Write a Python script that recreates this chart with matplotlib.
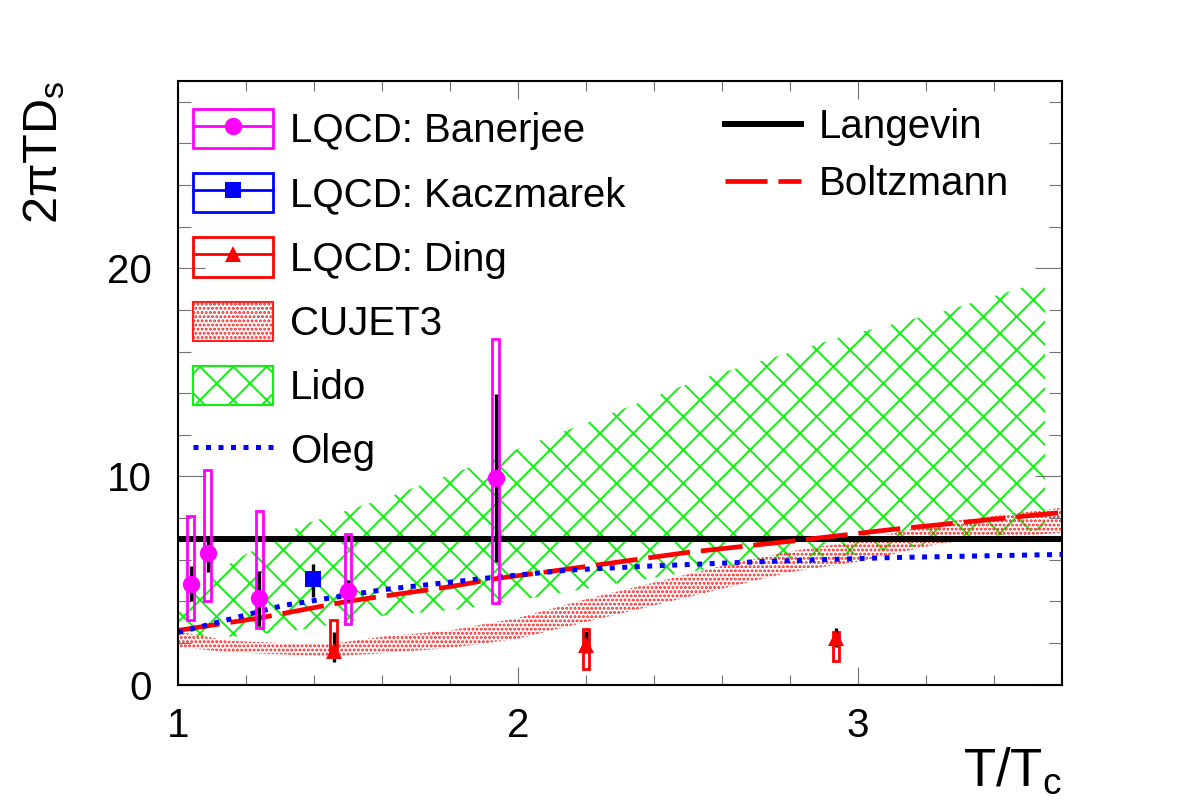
import matplotlib
matplotlib.use('Agg')
import matplotlib.pyplot as plt
from matplotlib.patches import Rectangle
from matplotlib.lines import Line2D
from matplotlib.ticker import MultipleLocator, FixedLocator

plt.rcParams['font.family'] = ['Liberation Sans', 'DejaVu Sans']
plt.rcParams['mathtext.fontset'] = 'custom'
plt.rcParams['mathtext.rm'] = 'Liberation Sans'
plt.rcParams['mathtext.it'] = 'Liberation Sans:italic'
plt.rcParams['mathtext.default'] = 'regular'
plt.rcParams['hatch.linewidth'] = 1.4

# ---- data ----
ban_x = [1.037, 1.087, 1.239, 1.50, 1.935]
ban_y = [4.85, 6.3, 4.15, 4.5, 9.9]
ban_stat_lo = [4.0, 5.4, 2.8, 4.0, 5.9]
ban_stat_hi = [5.7, 6.95, 5.45, 5.0, 13.95]
ban_sys_lo = [3.1, 4.0, 2.7, 2.9, 3.9]
ban_sys_hi = [8.1, 10.3, 8.35, 7.25, 16.6]

kac_x = [1.398]
kac_y = [5.05]
kac_stat_lo = [4.2]
kac_stat_hi = [5.8]

ding_x = [1.458, 2.20, 2.935]
ding_y = [1.6, 1.9, 2.25]
ding_stat_lo = [1.1, 1.5, 1.8]
ding_stat_hi = [2.5, 2.55, 2.7]
ding_sys_lo = [1.3, 0.75, 1.15]
ding_sys_hi = [3.1, 2.65, 2.5]

cujet_x = [1.0, 1.15, 1.3, 1.45, 1.6, 1.8, 2.0, 2.2, 2.4, 2.6, 2.8, 3.0, 3.25, 3.6]
cujet_lo = [1.8, 1.55, 1.45, 1.35, 1.5, 1.75, 2.2, 3.0, 3.8, 4.6, 5.4, 5.9, 6.8, 7.3]
cujet_hi = [2.55, 2.1, 2.0, 1.95, 2.3, 2.6, 3.2, 4.1, 4.9, 5.7, 6.4, 6.9, 7.8, 8.5]

lido_x = [1.0, 1.17, 1.37, 1.6, 1.82, 2.02, 2.27, 2.54, 2.83, 2.95, 3.245, 3.55]
lido_hi = [4.1, 6.0, 7.7, 8.9, 10.2, 11.45, 13.0, 14.7, 16.1, 16.7, 17.9, 19.4]
lido_lo = [2.3, 2.3, 2.65, 3.3, 3.6, 4.1, 4.8, 5.5, 6.15, 6.15, 6.8, 7.45]

oleg_x = [1.0, 1.31, 1.6, 1.9, 2.15, 2.4, 2.71, 3.1, 3.6]
oleg_y = [2.5, 3.8, 4.55, 5.1, 5.5, 5.7, 5.9, 6.1, 6.25]

boltz_x = [1.0, 1.24, 1.5, 1.8, 1.94, 2.125, 2.5, 2.81, 3.1, 3.6]
boltz_y = [2.6, 3.2, 4.0, 4.7, 5.1, 5.5, 6.35, 6.9, 7.45, 8.27]

langevin_y = 7.0

BOX_W = 0.02
GREEN = '#10f010'
MAGENTA = '#ff00ff'

fig = plt.figure(figsize=(11.82, 8.07), dpi=100)
ax = fig.add_axes([178 / 1182, 1 - 684.5 / 807, 884 / 1182, 603.5 / 807])

# bands
ax.fill_between(lido_x, lido_lo, lido_hi, facecolor='none', edgecolor=GREEN,
                hatch='x', linewidth=0, zorder=1)
ax.fill_between(cujet_x, cujet_lo, cujet_hi, facecolor='none', edgecolor='#ff2020',
                hatch='....', linewidth=0, zorder=1.5)

# curves
ax.axhline(langevin_y, color='black', lw=4.3, zorder=2)
ax.plot(boltz_x, boltz_y, color='red', lw=3.4, dashes=(8.9, 2.3), zorder=3)
ax.plot(oleg_x, oleg_y, color='blue', lw=3.6, dashes=(1, 1.5), zorder=3.5)

# systematic boxes
for x, lo, hi in zip(ban_x, ban_sys_lo, ban_sys_hi):
    ax.add_patch(Rectangle((x - BOX_W / 2, lo), BOX_W, hi - lo, fill=False,
                           edgecolor=MAGENTA, lw=2, zorder=4))
for x, lo, hi in zip(ding_x, ding_sys_lo, ding_sys_hi):
    ax.add_patch(Rectangle((x - BOX_W / 2, lo), BOX_W, hi - lo, fill=False,
                           edgecolor='red', lw=2, zorder=4))

# statistical bars
ax.vlines(ban_x, ban_stat_lo, ban_stat_hi, color='black', lw=2.4, zorder=5)
ax.vlines(kac_x, kac_stat_lo, kac_stat_hi, color='black', lw=2.4, zorder=5)
ax.vlines(ding_x, ding_stat_lo, ding_stat_hi, color='black', lw=2.4, zorder=5)

# markers
ax.plot(ban_x, ban_y, 'o', color=MAGENTA, ms=12.5, mew=0, zorder=6)
ax.plot(kac_x, kac_y, 's', color='blue', ms=12, mew=0, zorder=6)
ax.plot(ding_x, ding_y, '^', color='red', ms=11, mew=0, zorder=6)

ax.set_xlim(1, 3.6)
ax.set_ylim(0, 29)
ax.xaxis.set_major_locator(FixedLocator([1, 2, 3]))
ax.xaxis.set_minor_locator(MultipleLocator(0.2))
ax.yaxis.set_major_locator(FixedLocator([0, 10, 20]))
ax.yaxis.set_minor_locator(MultipleLocator(2))
ax.set_xticklabels(['1', '2', '3'])
ax.set_yticklabels(['0', '10', '20'])

ax.tick_params(which='both', direction='in', top=True, right=True,
               color='0.45', width=0.8, labelsize=29)
ax.tick_params(axis='x', which='major', length=13, pad=16)
ax.tick_params(axis='x', which='minor', length=7)
ax.tick_params(axis='y', which='major', length=19.5, pad=18.5)
ax.tick_params(axis='y', which='minor', length=9.5)
for s in ax.spines.values():
    s.set_linewidth(1.5)
    s.set_zorder(10)

fig.text(44 / 1182, 1 - 80 / 807, '2πTD$_s$', rotation=90, ha='center',
         va='top', fontsize=35)
fig.text(1062 / 1182, 1 - 786 / 807, 'T/T$_c$', ha='right', va='baseline',
         fontsize=38)

# legends
h_ban = (Rectangle((0, 0), 1, 1, fill=False, edgecolor=MAGENTA, lw=2),
         Line2D([], [], color=MAGENTA, lw=2, marker='o', ms=12.5, mew=0))
h_kac = (Rectangle((0, 0), 1, 1, fill=False, edgecolor='blue', lw=2),
         Line2D([], [], color='blue', lw=2, marker='s', ms=12, mew=0))
h_ding = (Rectangle((0, 0), 1, 1, fill=False, edgecolor='red', lw=2),
          Line2D([], [], color='red', lw=2, marker='^', ms=11, mew=0))
h_cujet = Rectangle((0, 0), 1, 1, facecolor='none', edgecolor='#ff2020', hatch='....', lw=1.5)
h_lido = Rectangle((0, 0), 1, 1, facecolor='none', edgecolor=GREEN, hatch='x', lw=1.5)
h_oleg = Line2D([], [], color='blue', lw=3.6, dashes=(1, 1.5))

leg1 = ax.legend([h_ban, h_kac, h_ding, h_cujet, h_lido, h_oleg],
                 ['LQCD: Banerjee', 'LQCD: Kaczmarek', 'LQCD: Ding', 'CUJET3', 'Lido', 'Oleg'],
                 loc='upper left', bbox_to_anchor=(193 / 1182, 1 - 109 / 807),
                 bbox_transform=fig.transFigure, frameon=False, fontsize=29,
                 borderpad=0, borderaxespad=0, handlelength=1.98, handleheight=1.12,
                 handletextpad=0.42, labelspacing=0.57, numpoints=1)
ax.add_artist(leg1)

h_lang = Line2D([], [], color='black', lw=4.3)
h_boltz = Line2D([], [], color='red', lw=3.4, dashes=(8.9, 2.3))
ax.legend([h_lang, h_boltz], ['Langevin', 'Boltzmann'],
          loc='upper left', bbox_to_anchor=(725 / 1182, 1 - 108 / 807),
          bbox_transform=fig.transFigure, frameon=False, fontsize=29,
          borderpad=0, borderaxespad=0, handlelength=1.89,
          handletextpad=0.45, labelspacing=0.47)

fig.savefig('out.png', dpi=100)
